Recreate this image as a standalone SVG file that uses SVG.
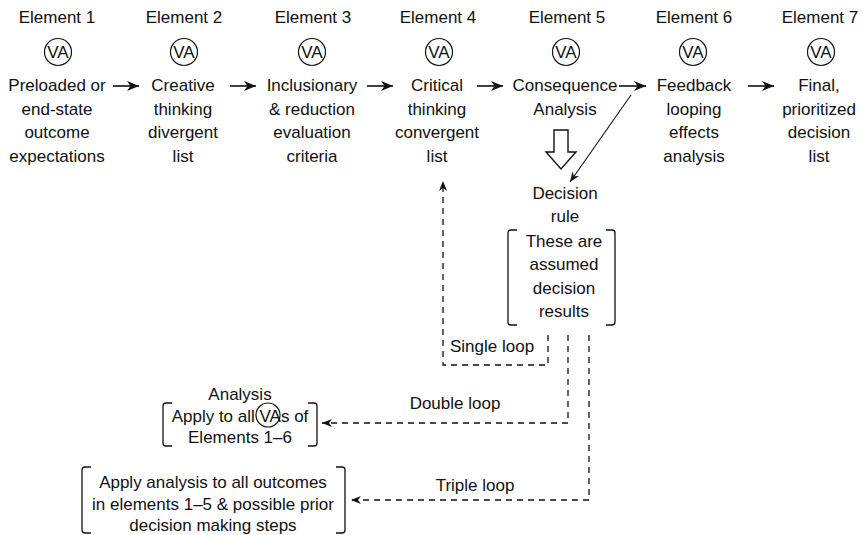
<svg xmlns="http://www.w3.org/2000/svg" width="863" height="535" viewBox="0 0 863 535">
  <style>
    text { font-family: "Liberation Sans", Arial, sans-serif; font-size: 17px; fill: #111; }
    .c { text-anchor: middle; }
    .ring { fill: none; stroke: #111; stroke-width: 1.2; }
    .flow { stroke: #111; stroke-width: 1.6; fill: none; }
    .thin { stroke: #111; stroke-width: 1.1; fill: none; }
    .dash { stroke: #111; stroke-width: 1.3; fill: none; stroke-dasharray: 6 5; }
    .brk { stroke: #111; stroke-width: 1.3; fill: none; }
  </style>
  <defs>
    <marker id="head" viewBox="0 0 12 10" refX="12" refY="5" markerWidth="12" markerHeight="10" markerUnits="userSpaceOnUse" orient="auto">
      <path d="M0,0 L12,5 L0,10 L3.5,5 z" fill="#111"/>
    </marker>
    <marker id="headSm" viewBox="0 0 10 8" refX="10" refY="4" markerWidth="10" markerHeight="8" markerUnits="userSpaceOnUse" orient="auto">
      <path d="M0,0 L10,4 L0,8 L3,4 z" fill="#111"/>
    </marker>
  </defs>

  <!-- Element columns -->
  <g id="element1">
    <text class="c" x="57" y="23">Element 1</text>
    <circle class="ring" cx="58" cy="52" r="13.5"/>
    <text class="c" x="58" y="58">VA</text>
    <text class="c" x="57" y="91">Preloaded or</text>
    <text class="c" x="57" y="114.5">end-state</text>
    <text class="c" x="57" y="138">outcome</text>
    <text class="c" x="57" y="161.5">expectations</text>
  </g>
  <g id="element2">
    <text class="c" x="184" y="23">Element 2</text>
    <circle class="ring" cx="184" cy="52" r="13.5"/>
    <text class="c" x="184" y="58">VA</text>
    <text class="c" x="183" y="91">Creative</text>
    <text class="c" x="183" y="114.5">thinking</text>
    <text class="c" x="183" y="138">divergent</text>
    <text class="c" x="183" y="161.5">list</text>
  </g>
  <g id="element3">
    <text class="c" x="313" y="23">Element 3</text>
    <circle class="ring" cx="312" cy="52" r="13.5"/>
    <text class="c" x="312" y="58">VA</text>
    <text class="c" x="312" y="91">Inclusionary</text>
    <text class="c" x="312" y="114.5">&amp; reduction</text>
    <text class="c" x="312" y="138">evaluation</text>
    <text class="c" x="312" y="161.5">criteria</text>
  </g>
  <g id="element4">
    <text class="c" x="438" y="23">Element 4</text>
    <circle class="ring" cx="439" cy="52" r="13.5"/>
    <text class="c" x="439" y="58">VA</text>
    <text class="c" x="437" y="91">Critical</text>
    <text class="c" x="437" y="114.5">thinking</text>
    <text class="c" x="437" y="138">convergent</text>
    <text class="c" x="437" y="161.5">list</text>
  </g>
  <g id="element5">
    <text class="c" x="567" y="23">Element 5</text>
    <circle class="ring" cx="566" cy="52" r="13.5"/>
    <text class="c" x="566" y="58">VA</text>
    <text class="c" x="565" y="91">Consequence</text>
    <text class="c" x="565" y="114.5">Analysis</text>
  </g>
  <g id="element6">
    <text class="c" x="694" y="23">Element 6</text>
    <circle class="ring" cx="693" cy="52" r="13.5"/>
    <text class="c" x="693" y="58">VA</text>
    <text class="c" x="694" y="91">Feedback</text>
    <text class="c" x="694" y="114.5">looping</text>
    <text class="c" x="694" y="138">effects</text>
    <text class="c" x="694" y="161.5">analysis</text>
  </g>
  <g id="element7">
    <text class="c" x="820" y="23">Element 7</text>
    <circle class="ring" cx="821" cy="52" r="13.5"/>
    <text class="c" x="821" y="58">VA</text>
    <text class="c" x="819" y="91">Final,</text>
    <text class="c" x="819" y="114.5">prioritized</text>
    <text class="c" x="819" y="138">decision</text>
    <text class="c" x="819" y="161.5">list</text>
  </g>

  <!-- Decision rule with its bracketed note -->
  <g id="decision-rule">
    <text class="c" x="565" y="199">Decision</text>
    <text class="c" x="565" y="222">rule</text>
    <path class="brk" d="M517,230 H511 Q508,230 508,233 V322 Q508,325 511,325 H517"/>
    <path class="brk" d="M606,230 H612 Q615,230 615,233 V322 Q615,325 612,325 H606"/>
    <text class="c" x="564" y="247">These are</text>
    <text class="c" x="564" y="270">assumed</text>
    <text class="c" x="564" y="294">decision</text>
    <text class="c" x="564" y="317">results</text>
  </g>

  <!-- Double loop target -->
  <g id="double-loop-box">
    <text class="c" x="240" y="400">Analysis</text>
    <path class="brk" d="M172,403 H166 Q163,403 163,406 V443 Q163,446 166,446 H172"/>
    <path class="brk" d="M308,403 H314 Q317,403 317,406 V443 Q317,446 314,446 H308"/>
    <text class="c" x="240" y="422">Apply to all VAs of</text>
    <circle class="ring" cx="268" cy="415" r="12"/>
    <text class="c" x="240" y="443">Elements 1–6</text>
  </g>

  <!-- Triple loop target -->
  <g id="triple-loop-box">
    <path class="brk" d="M91,467 H85 Q82,467 82,470 V530 Q82,533 85,533 H91"/>
    <path class="brk" d="M336,467 H342 Q345,467 345,470 V530 Q345,533 342,533 H336"/>
    <text class="c" x="213" y="488">Apply analysis to all outcomes</text>
    <text class="c" x="213" y="509.5">in elements 1–5 &amp; possible prior</text>
    <text class="c" x="213" y="531">decision making steps</text>
  </g>

  <!-- Connectors -->
  <g id="connectors">
    <line class="flow" x1="113" y1="86" x2="139" y2="86" marker-end="url(#head)"/>
    <line class="flow" x1="230" y1="86" x2="256" y2="86" marker-end="url(#head)"/>
    <line class="flow" x1="367" y1="86" x2="393" y2="86" marker-end="url(#head)"/>
    <line class="flow" x1="477" y1="86" x2="503" y2="86" marker-end="url(#head)"/>
    <line class="flow" x1="619" y1="86" x2="646" y2="86" marker-end="url(#head)"/>
    <line class="flow" x1="748" y1="86" x2="774" y2="86" marker-end="url(#head)"/>

    <!-- hollow block arrow into the decision rule -->
    <path d="M554,130 H568 V152 H576 L561,169 L546,152 H554 Z" fill="#fff" stroke="#111" stroke-width="1.4" stroke-linejoin="miter"/>

    <!-- feedback from Element 5/6 boundary down to the decision rule -->
    <line class="thin" x1="631" y1="95" x2="570" y2="182" marker-end="url(#headSm)"/>

    <!-- single loop -->
    <path class="dash" d="M548,335 V365 H443 V181" marker-end="url(#headSm)"/>
    <text x="450" y="352">Single loop</text>

    <!-- double loop -->
    <path class="dash" d="M568,335 V423 H322" marker-end="url(#headSm)"/>
    <text class="c" x="455" y="409">Double loop</text>

    <!-- triple loop -->
    <path class="dash" d="M589,335 V500 H351" marker-end="url(#headSm)"/>
    <text class="c" x="475" y="491">Triple loop</text>
  </g>
</svg>
